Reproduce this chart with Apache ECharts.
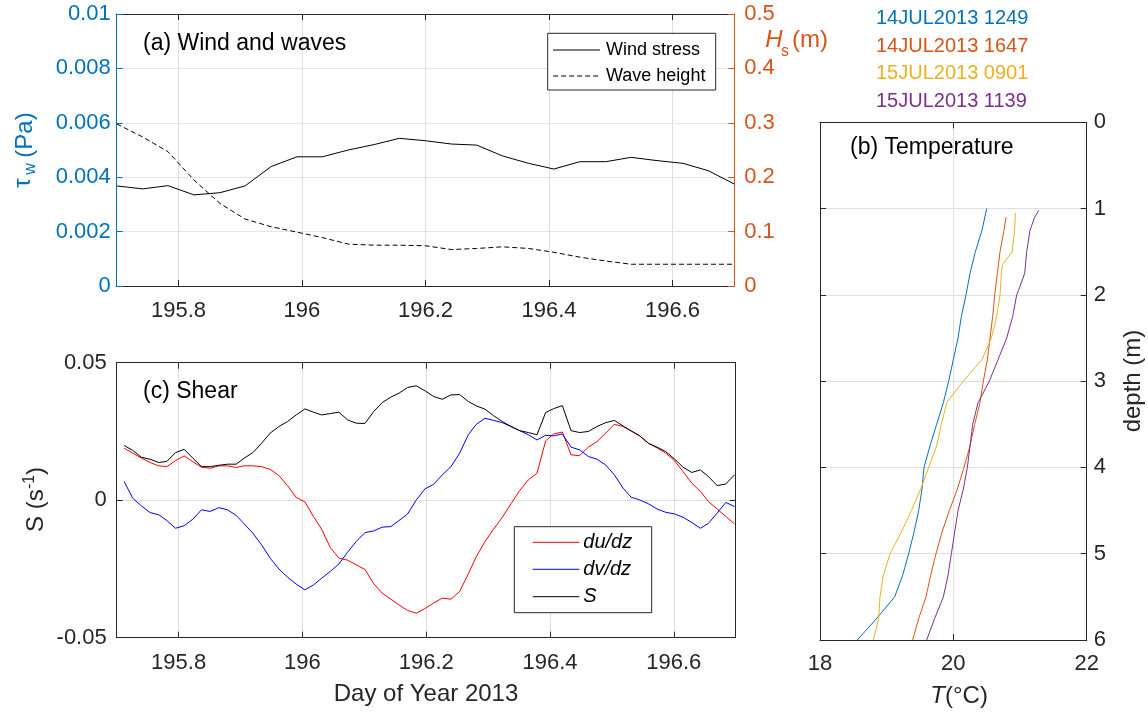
<!DOCTYPE html>
<html>
<head>
<meta charset="utf-8">
<script src="https://cdn.jsdelivr.net/npm/echarts@6/dist/echarts.min.js"></script>
<style>
html,body{margin:0;padding:0;background:#fff;}
#chart{width:1148px;height:713px;}
</style>
</head>
<body>
<div id="chart"></div>
<script>
// ---------- Panel (a): wind stress and wave height (hourly) ----------
const windTime = [195.700,195.742,195.783,195.825,195.867,195.908,195.950,195.992,196.033,196.075,196.117,196.158,196.200,196.242,196.283,196.325,196.367,196.408,196.450,196.492,196.533,196.575,196.617,196.658,196.700];
const windStress = [0.00368,0.00357,0.00369,0.00335,0.00343,0.00368,0.00439,0.00475,0.00475,0.00500,0.00520,0.00543,0.00534,0.00522,0.00518,0.00478,0.00451,0.00430,0.00457,0.00457,0.00473,0.00461,0.00451,0.00424,0.00375];
const waveHeight = [0.298,0.274,0.247,0.195,0.152,0.123,0.109,0.099,0.089,0.077,0.075,0.075,0.074,0.067,0.069,0.072,0.069,0.062,0.053,0.046,0.040,0.040,0.040,0.040,0.040];

// ---------- Panel (c): shear (20-min) ----------
const shearTime = [195.712,195.726,195.740,195.754,195.768,195.781,195.795,195.809,195.823,195.837,195.851,195.865,195.879,195.893,195.906,195.920,195.934,195.948,195.962,195.976,195.990,196.004,196.018,196.031,196.045,196.059,196.073,196.087,196.101,196.115,196.129,196.143,196.156,196.170,196.184,196.198,196.212,196.226,196.240,196.254,196.268,196.281,196.295,196.309,196.323,196.337,196.351,196.365,196.379,196.393,196.406,196.420,196.434,196.448,196.462,196.476,196.490,196.504,196.518,196.531,196.545,196.559,196.573,196.587,196.601,196.615,196.629,196.643,196.656,196.670,196.684,196.698];
const dudz = [0.0189,0.0171,0.0153,0.0137,0.0125,0.0122,0.0144,0.0161,0.0140,0.0120,0.0116,0.0125,0.0125,0.0119,0.0125,0.0125,0.0122,0.0112,0.0090,0.0053,0.0010,-0.0006,-0.0060,-0.0105,-0.0172,-0.0211,-0.0218,-0.0235,-0.0252,-0.0303,-0.0338,-0.0360,-0.0381,-0.0401,-0.0411,-0.0394,-0.0374,-0.0356,-0.0360,-0.0332,-0.0268,-0.0205,-0.0150,-0.0105,-0.0062,-0.0013,0.0035,0.0074,0.0098,0.0216,0.0241,0.0248,0.0165,0.0162,0.0193,0.0213,0.0244,0.0276,0.0268,0.0252,0.0234,0.0207,0.0190,0.0171,0.0144,0.0104,0.0062,0.0032,-0.0005,-0.0032,-0.0059,-0.0086];
const dvdz = [0.0068,0.0007,-0.0021,-0.0045,-0.0053,-0.0074,-0.0102,-0.0093,-0.0069,-0.0035,-0.0041,-0.0027,-0.0035,-0.0055,-0.0086,-0.0120,-0.0162,-0.0211,-0.0250,-0.0280,-0.0305,-0.0326,-0.0308,-0.0284,-0.0259,-0.0232,-0.0189,-0.0150,-0.0118,-0.0112,-0.0098,-0.0096,-0.0074,-0.0050,0.0001,0.0041,0.0058,0.0092,0.0122,0.0171,0.0238,0.0276,0.0298,0.0290,0.0282,0.0268,0.0253,0.0238,0.0219,0.0236,0.0234,0.0241,0.0193,0.0183,0.0159,0.0149,0.0128,0.0092,0.0044,0.0011,0.0001,-0.0013,-0.0032,-0.0044,-0.0050,-0.0062,-0.0081,-0.0102,-0.0084,-0.0047,-0.0008,-0.0023];
const shearS = [0.0199,0.0181,0.0156,0.0149,0.0137,0.0141,0.0173,0.0185,0.0153,0.0122,0.0122,0.0127,0.0131,0.0131,0.0153,0.0173,0.0207,0.0244,0.0268,0.0286,0.0310,0.0332,0.0320,0.0310,0.0315,0.0320,0.0292,0.0280,0.0279,0.0322,0.0355,0.0375,0.0389,0.0410,0.0416,0.0398,0.0377,0.0367,0.0383,0.0384,0.0359,0.0343,0.0331,0.0307,0.0286,0.0268,0.0253,0.0246,0.0238,0.0319,0.0333,0.0344,0.0253,0.0246,0.0250,0.0268,0.0282,0.0290,0.0270,0.0252,0.0234,0.0207,0.0193,0.0177,0.0150,0.0120,0.0101,0.0110,0.0086,0.0053,0.0059,0.0092];

// ---------- Panel (b): temperature profiles ----------
const depth1249 = [1.0,1.25,1.5,1.75,2.0,2.25,2.5,2.75,3.0,3.25,3.5,3.75,4.0,4.25,4.5,4.75,5.0,5.25,5.5,5.75,6.0];
const temp1249  = [20.50,20.43,20.33,20.25,20.19,20.12,20.07,20.00,19.93,19.85,19.75,19.65,19.56,19.53,19.48,19.41,19.33,19.24,19.12,18.85,18.56];
const depth1647 = [1.1,1.25,1.5,1.75,2.0,2.25,2.5,2.75,3.0,3.25,3.5,3.75,4.0,4.25,4.5,4.75,5.0,5.25,5.5,5.75,6.0];
const temp1647  = [20.79,20.76,20.70,20.66,20.62,20.59,20.55,20.51,20.45,20.40,20.32,20.25,20.16,20.06,19.94,19.83,19.74,19.66,19.59,19.48,19.39];
const depth0901 = [1.05,1.25,1.5,1.65,1.75,2.0,2.25,2.5,2.75,3.0,3.25,3.5,3.75,4.0,4.25,4.5,4.75,5.0,5.25,5.5,5.75,6.0];
const temp0901  = [20.93,20.92,20.88,20.74,20.72,20.70,20.65,20.57,20.43,20.15,19.90,19.82,19.75,19.63,19.51,19.37,19.22,19.05,18.95,18.90,18.88,18.80];
const depth1139 = [1.02,1.1,1.25,1.5,1.75,1.9,2.0,2.25,2.5,2.75,3.0,3.25,3.5,3.75,4.0,4.25,4.5,4.75,5.0,5.25,5.5,5.75,6.0];
const temp1139  = [21.28,21.22,21.15,21.10,21.07,21.00,20.95,20.89,20.80,20.67,20.54,20.37,20.29,20.25,20.21,20.15,20.07,20.02,19.97,19.92,19.85,19.72,19.60];
const profileNames = ['14JUL2013 1249','14JUL2013 1647','15JUL2013 0901','15JUL2013 1139'];

// ---------- tick labels ----------
const dayTicks = [195.8,196,196.2,196.4,196.6];

// ---------- styling ----------
const FONT = "'Liberation Sans', Arial, Helvetica, sans-serif";
const AX = '#262626';
const GRID = '#dfdfdf';
const BLUE = '#0072BD', ORANGE = '#D95319', YELLOW = '#EDB120', PURPLE = '#7E2F8E';
const profColors = [BLUE, ORANGE, YELLOW, PURPLE];

const zip = (a, b) => a.map((v, i) => [v, b[i]]);

function xAx(grid, pos, labels, extra) {
  return Object.assign({
    type: 'value', gridIndex: grid, position: pos,
    axisLine: {show: true, onZero: false, lineStyle: {color: AX, width: 1}},
    axisTick: {show: true, inside: true, length: 6, lineStyle: {color: AX}},
    axisLabel: {show: labels, fontSize: 22, color: AX, fontFamily: FONT, margin: 13},
    splitLine: {show: labels, lineStyle: {color: GRID, width: 1}}
  }, extra);
}
function yAx(grid, pos, labels, color, extra) {
  return Object.assign({
    type: 'value', gridIndex: grid, position: pos,
    axisLine: {show: true, onZero: false, lineStyle: {color: color, width: 1}},
    axisTick: {show: true, inside: true, length: 6, lineStyle: {color: color}},
    axisLabel: {show: labels, fontSize: 22, color: color, fontFamily: FONT, margin: 8},
    splitLine: {show: false}
  }, extra);
}

const dayAxisExtra = {
  min: 195.7, max: 196.7,
  axisLabel: {show: true, fontSize: 22, color: AX, fontFamily: FONT, margin: 14, customValues: dayTicks},
  axisTick: {show: true, inside: true, length: 6, lineStyle: {color: AX}, customValues: dayTicks}
};
const dayAxisTop = {
  min: 195.7, max: 196.7,
  axisLabel: {show: false},
  axisTick: {show: true, inside: true, length: 6, lineStyle: {color: AX}, customValues: dayTicks}
};

function txt(x, y, text, o) {
  o = o || {};
  return {
    type: 'text', x: x, y: y, rotation: o.rot || 0, z: 100,
    style: {
      text: text, fill: o.color || '#000', fontSize: o.size || 22, fontFamily: FONT,
      fontStyle: o.italic ? 'italic' : 'normal', align: o.align || 'left', verticalAlign: 'middle'
    }
  };
}
function seg(x1, y1, x2, y2, color, dash) {
  return {type: 'line', z: 100, shape: {x1: x1, y1: y1, x2: x2, y2: y2},
    style: {stroke: color, lineWidth: 1, lineDash: dash || null}};
}
function box(x, y, w, h) {
  return {type: 'rect', z: 99, shape: {x: x, y: y, width: w, height: h},
    style: {fill: '#fff', stroke: AX, lineWidth: 1}};
}

const R90 = Math.PI / 2;
const graphics = [
  // panel titles
  txt(143, 44, '(a) Wind and waves', {size: 23}),
  txt(143, 392, '(c) Shear', {size: 23}),
  txt(850, 148, '(b) Temperature', {size: 23}),
  // x titles
  txt(426, 694, 'Day of Year 2013', {size: 24, align: 'center', color: AX}),
  txt(945, 696, 'T', {size: 24, align: 'right', italic: true, color: AX}),
  txt(945, 696, '(°C)', {size: 24, align: 'left', color: AX}),
  // depth label
  txt(1133, 381, 'depth (m)', {size: 24, align: 'center', rot: R90, color: AX}),
  // tau_w (Pa)
  txt(23, 183, 'τ', {size: 24, align: 'center', rot: R90, color: BLUE}),
  txt(31, 169, 'w', {size: 16, align: 'center', rot: R90, color: BLUE}),
  txt(25, 135, '(Pa)', {size: 24, align: 'center', rot: R90, color: BLUE}),
  // H_s (m)
  txt(774, 40, 'H', {size: 24, align: 'center', italic: true, color: ORANGE}),
  txt(785, 52, 's', {size: 16, align: 'center', color: ORANGE}),
  txt(792, 40, '(m)', {size: 24, align: 'left', color: ORANGE}),
  // S (s^-1)
  txt(36, 532, 'S (s', {size: 24, align: 'left', rot: R90, color: AX}),
  txt(30, 489, '-1', {size: 16, align: 'left', rot: R90, color: AX}),
  txt(36, 475, ')', {size: 24, align: 'left', rot: R90, color: AX}),
  // legend (a)
  box(547.7, 33.3, 168, 56.7),
  seg(553, 50, 600, 50, '#000'),
  seg(553, 76, 600, 76, '#000', [5, 3]),
  txt(606, 50.5, 'Wind stress', {size: 18}),
  txt(606, 76, 'Wave height', {size: 18}),
  // legend (c)
  box(514.3, 526.7, 137.4, 86),
  seg(532.7, 542.3, 579.3, 542.3, '#ff0000'),
  seg(532.7, 569.3, 579.3, 569.3, '#0000ff'),
  seg(532.7, 596.7, 579.3, 596.7, '#000'),
  txt(583.3, 542.3, 'du/dz', {size: 20, italic: true}),
  txt(583.3, 569.3, 'dv/dz', {size: 20, italic: true}),
  txt(583.3, 596.7, 'S', {size: 20, italic: true}),
];
// legend (b) coloured cast names
const legY = [18.5, 46, 73.5, 101];
profileNames.forEach((n, i) => graphics.push(txt(876, legY[i], n, {size: 20, color: profColors[i]})));

const option = {
  animation: false,
  backgroundColor: '#fff',
  grid: [
    {left: 116.7, top: 14, width: 617.5, height: 272, containLabel: false, outerBoundsMode: 'none'},
    {left: 116.7, top: 362.7, width: 619, height: 275, containLabel: false, outerBoundsMode: 'none'},
    {left: 820, top: 122.3, width: 266.7, height: 517.7, containLabel: false, outerBoundsMode: 'none'}
  ],
  xAxis: [
    xAx(0, 'bottom', true, dayAxisExtra),
    xAx(0, 'top', false, dayAxisTop),
    xAx(1, 'bottom', true, dayAxisExtra),
    xAx(1, 'top', false, dayAxisTop),
    xAx(2, 'bottom', true, {min: 18, max: 22, interval: 2}),
    xAx(2, 'top', false, {min: 18, max: 22, interval: 2})
  ],
  yAxis: [
    yAx(0, 'left', true, BLUE, {min: 0, max: 0.01, interval: 0.002,
      axisLabel: {show: true, fontSize: 22, color: BLUE, fontFamily: FONT, margin: 6},
      splitLine: {show: true, lineStyle: {color: '#d9eaf5', width: 1}}}),
    yAx(0, 'right', true, ORANGE, {min: 0, max: 0.5, interval: 0.1,
      axisLabel: {show: true, fontSize: 22, color: ORANGE, fontFamily: FONT, margin: 10}}),
    yAx(1, 'left', true, AX, {min: -0.05, max: 0.05, interval: 0.05,
      axisLabel: {show: true, fontSize: 22, color: AX, fontFamily: FONT, margin: 10},
      splitLine: {show: true, lineStyle: {color: GRID, width: 1}}}),
    yAx(1, 'right', false, AX, {min: -0.05, max: 0.05, interval: 0.05}),
    yAx(2, 'right', true, AX, {min: 0, max: 6, interval: 1, inverse: true,
      axisLabel: {show: true, fontSize: 22, color: AX, fontFamily: FONT, margin: 7},
      splitLine: {show: true, lineStyle: {color: GRID, width: 1}}}),
    yAx(2, 'left', false, AX, {min: 0, max: 6, interval: 1, inverse: true})
  ],
  series: [
    {name: 'Wind stress', type: 'line', xAxisIndex: 0, yAxisIndex: 0, data: zip(windTime, windStress),
      symbol: 'none', lineStyle: {color: '#000', width: 1}, z: 3},
    {name: 'Wave height', type: 'line', xAxisIndex: 0, yAxisIndex: 1, data: zip(windTime, waveHeight),
      symbol: 'none', lineStyle: {color: '#000', width: 1, type: [5, 3]}, z: 3},
    {name: 'du/dz', type: 'line', xAxisIndex: 2, yAxisIndex: 2, data: zip(shearTime, dudz),
      symbol: 'none', lineStyle: {color: '#ff0000', width: 1}, z: 3},
    {name: 'dv/dz', type: 'line', xAxisIndex: 2, yAxisIndex: 2, data: zip(shearTime, dvdz),
      symbol: 'none', lineStyle: {color: '#0000ff', width: 1}, z: 3},
    {name: 'S', type: 'line', xAxisIndex: 2, yAxisIndex: 2, data: zip(shearTime, shearS),
      symbol: 'none', lineStyle: {color: '#000', width: 1}, z: 3},
    {name: profileNames[0], type: 'line', xAxisIndex: 4, yAxisIndex: 4, data: zip(temp1249, depth1249),
      symbol: 'none', lineStyle: {color: BLUE, width: 1}, z: 3},
    {name: profileNames[1], type: 'line', xAxisIndex: 4, yAxisIndex: 4, data: zip(temp1647, depth1647),
      symbol: 'none', lineStyle: {color: ORANGE, width: 1}, z: 3},
    {name: profileNames[2], type: 'line', xAxisIndex: 4, yAxisIndex: 4, data: zip(temp0901, depth0901),
      symbol: 'none', lineStyle: {color: YELLOW, width: 1}, z: 3},
    {name: profileNames[3], type: 'line', xAxisIndex: 4, yAxisIndex: 4, data: zip(temp1139, depth1139),
      symbol: 'none', lineStyle: {color: PURPLE, width: 1}, z: 3}
  ],
  graphic: graphics
};

const chart = echarts.init(document.getElementById('chart'), null, {renderer: 'canvas'});
chart.setOption(option);
</script>
</body>
</html>
